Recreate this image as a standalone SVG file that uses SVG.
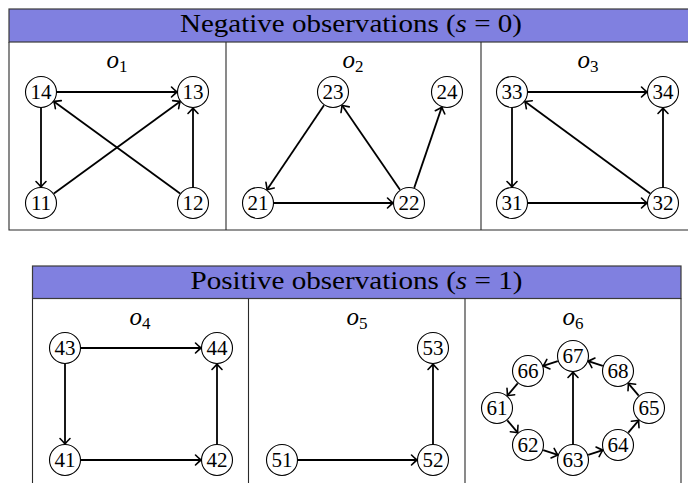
<svg xmlns="http://www.w3.org/2000/svg" width="688" height="483" viewBox="0 0 688 483">
<style>
.hdr{fill:#8080e0;stroke:#3a3a3a;stroke-width:1.2}
.frame{fill:none;stroke:#2a2a2a;stroke-width:1.1}
text{font-family:'Liberation Serif','Times New Roman','DejaVu Serif',serif}
.ht{font-size:26px;fill:#000}
.obs{font-size:25px;font-style:italic;fill:#000;text-anchor:middle}
.sub{font-size:17px;font-style:normal}
.node circle{fill:#fff;stroke:#000;stroke-width:1.1}
.node text{font-size:21px;fill:#000;text-anchor:middle}
.edge{stroke:#000;stroke-width:1.8;fill:none;marker-end:url(#arr)}
</style>
<defs>
<marker id="arr" markerUnits="userSpaceOnUse" markerWidth="14" markerHeight="14" refX="0" refY="0" orient="auto" viewBox="-7 -7 14 14" overflow="visible">
<path d="M -5.5,-5 Q -2,-1.5 0,0 Q -2,1.5 -5.5,5" fill="none" stroke="#000" stroke-width="1.6" stroke-linecap="round"/>
</marker>
</defs>
<rect width="688" height="483" fill="#fff"/>
<g id="tables">
<rect class="hdr" x="9" y="9" width="686" height="33"/>
<path class="frame" d="M9,42 V230 H695 M226,42 V230 M481,42 V230"/>
<text class="ht" x="351" y="32" text-anchor="middle" textLength="342" lengthAdjust="spacingAndGlyphs" font-family="Liberation Serif, serif">Negative observations (<tspan font-style="italic">s</tspan> = 0)</text>
<rect class="hdr" x="32.5" y="266" width="648.5" height="32.5"/>
<path class="frame" d="M32.5,298.5 V490 M248.5,298.5 V490 M465,298.5 V490 M681,298.5 V490"/>
<text class="ht" x="356.5" y="289" text-anchor="middle" textLength="332" lengthAdjust="spacingAndGlyphs" font-family="Liberation Serif, serif">Positive observations (<tspan font-style="italic">s</tspan> = 1)</text>
<text class="obs" x="117" y="68">o<tspan class="sub" dy="4">1</tspan></text>
<text class="obs" x="353" y="68">o<tspan class="sub" dy="4">2</tspan></text>
<text class="obs" x="588" y="68">o<tspan class="sub" dy="4">3</tspan></text>
<text class="obs" x="140" y="325">o<tspan class="sub" dy="4">4</tspan></text>
<text class="obs" x="357" y="325">o<tspan class="sub" dy="4">5</tspan></text>
<text class="obs" x="573" y="325">o<tspan class="sub" dy="4">6</tspan></text>
</g>
<g id="connectors">
<line class="edge" x1="57" y1="92" x2="177" y2="92"/>
<line class="edge" x1="41" y1="108" x2="41" y2="187"/>
<line class="edge" x1="53.9" y1="193.6" x2="180.1" y2="101.4"/>
<line class="edge" x1="180.1" y1="193.6" x2="53.9" y2="101.4"/>
<line class="edge" x1="193" y1="187" x2="193" y2="108"/>
<line class="edge" x1="324" y1="105.3" x2="267" y2="189.7"/>
<line class="edge" x1="274" y1="203" x2="393" y2="203"/>
<line class="edge" x1="400" y1="189.8" x2="342" y2="105.2"/>
<line class="edge" x1="414.2" y1="187.9" x2="441.8" y2="107.1"/>
<line class="edge" x1="528" y1="92" x2="647" y2="92"/>
<line class="edge" x1="512" y1="108" x2="512" y2="187"/>
<line class="edge" x1="528" y1="203" x2="647" y2="203"/>
<line class="edge" x1="650.1" y1="193.5" x2="524.9" y2="101.5"/>
<line class="edge" x1="663" y1="187" x2="663" y2="108"/>
<line class="edge" x1="81" y1="348" x2="201" y2="348"/>
<line class="edge" x1="65" y1="364" x2="65" y2="444"/>
<line class="edge" x1="81" y1="460" x2="201" y2="460"/>
<line class="edge" x1="217" y1="444" x2="217" y2="364"/>
<line class="edge" x1="298" y1="460" x2="417" y2="460"/>
<line class="edge" x1="433" y1="444" x2="433" y2="364"/>
<line class="edge" x1="602.8" y1="365.9" x2="588.2" y2="361.1"/>
<line class="edge" x1="557.8" y1="361.1" x2="543.2" y2="365.9"/>
<line class="edge" x1="517.7" y1="383.3" x2="507.3" y2="395.7"/>
<line class="edge" x1="507.3" y1="420.3" x2="517.7" y2="432.7"/>
<line class="edge" x1="543.2" y1="450.1" x2="557.8" y2="454.9"/>
<line class="edge" x1="588.2" y1="454.9" x2="602.8" y2="450.1"/>
<line class="edge" x1="628.3" y1="432.7" x2="638.7" y2="420.3"/>
<line class="edge" x1="638.7" y1="395.7" x2="628.3" y2="383.3"/>
<line class="edge" x1="573" y1="444" x2="573" y2="372"/>
</g>
<g id="n14" class="node"><circle cx="41" cy="92" r="15.5"/><text x="41" y="99">14</text></g>
<g id="n13" class="node"><circle cx="193" cy="92" r="15.5"/><text x="193" y="99">13</text></g>
<g id="n11" class="node"><circle cx="41" cy="203" r="15.5"/><text x="41" y="210">11</text></g>
<g id="n12" class="node"><circle cx="193" cy="203" r="15.5"/><text x="193" y="210">12</text></g>
<g id="n23" class="node"><circle cx="333" cy="92" r="15.5"/><text x="333" y="99">23</text></g>
<g id="n24" class="node"><circle cx="447" cy="92" r="15.5"/><text x="447" y="99">24</text></g>
<g id="n21" class="node"><circle cx="258" cy="203" r="15.5"/><text x="258" y="210">21</text></g>
<g id="n22" class="node"><circle cx="409" cy="203" r="15.5"/><text x="409" y="210">22</text></g>
<g id="n33" class="node"><circle cx="512" cy="92" r="15.5"/><text x="512" y="99">33</text></g>
<g id="n34" class="node"><circle cx="663" cy="92" r="15.5"/><text x="663" y="99">34</text></g>
<g id="n31" class="node"><circle cx="512" cy="203" r="15.5"/><text x="512" y="210">31</text></g>
<g id="n32" class="node"><circle cx="663" cy="203" r="15.5"/><text x="663" y="210">32</text></g>
<g id="n43" class="node"><circle cx="65" cy="348" r="15.5"/><text x="65" y="355">43</text></g>
<g id="n44" class="node"><circle cx="217" cy="348" r="15.5"/><text x="217" y="355">44</text></g>
<g id="n41" class="node"><circle cx="65" cy="460" r="15.5"/><text x="65" y="467">41</text></g>
<g id="n42" class="node"><circle cx="217" cy="460" r="15.5"/><text x="217" y="467">42</text></g>
<g id="n53" class="node"><circle cx="433" cy="348" r="15.5"/><text x="433" y="355">53</text></g>
<g id="n51" class="node"><circle cx="282" cy="460" r="15.5"/><text x="282" y="467">51</text></g>
<g id="n52" class="node"><circle cx="433" cy="460" r="15.5"/><text x="433" y="467">52</text></g>
<g id="n67" class="node"><circle cx="573" cy="356" r="15.5"/><text x="573" y="363">67</text></g>
<g id="n66" class="node"><circle cx="528" cy="371" r="15.5"/><text x="528" y="378">66</text></g>
<g id="n68" class="node"><circle cx="618" cy="371" r="15.5"/><text x="618" y="378">68</text></g>
<g id="n61" class="node"><circle cx="497" cy="408" r="15.5"/><text x="497" y="415">61</text></g>
<g id="n65" class="node"><circle cx="649" cy="408" r="15.5"/><text x="649" y="415">65</text></g>
<g id="n62" class="node"><circle cx="528" cy="445" r="15.5"/><text x="528" y="452">62</text></g>
<g id="n64" class="node"><circle cx="618" cy="445" r="15.5"/><text x="618" y="452">64</text></g>
<g id="n63" class="node"><circle cx="573" cy="460" r="15.5"/><text x="573" y="467">63</text></g>
</svg>
